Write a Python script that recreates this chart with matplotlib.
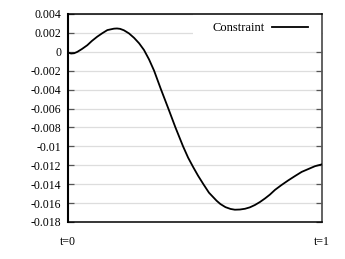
import matplotlib
matplotlib.use("Agg")
import matplotlib.pyplot as plt
from matplotlib.patches import Rectangle

# constraint value along t
t_vals = [0.0, 0.012, 0.024, 0.037, 0.055, 0.076, 0.094, 0.115, 0.134, 0.155,
          0.181, 0.193, 0.205, 0.22, 0.24, 0.26, 0.28, 0.299, 0.319, 0.339,
          0.365, 0.395, 0.423, 0.453, 0.473, 0.493, 0.512, 0.533, 0.555, 0.585,
          0.6, 0.62, 0.64, 0.657, 0.677, 0.697, 0.716, 0.736, 0.756, 0.776,
          0.795, 0.815, 0.84, 0.867, 0.893, 0.92, 0.946, 0.972, 1.0]
c_vals = [-0.00008, -0.00018, -0.00015, 0.0, 0.0003, 0.0007, 0.00115, 0.0016,
          0.00195, 0.0023, 0.00245, 0.00247, 0.00243, 0.00228, 0.00195,
          0.00148, 0.0009, 0.0002, -0.0008, -0.002, -0.0039, -0.006, -0.008,
          -0.0100, -0.0112, -0.0122, -0.0131, -0.0140, -0.0149, -0.01575,
          -0.0161, -0.01643, -0.01662, -0.0167, -0.01668, -0.0166, -0.01645,
          -0.0162, -0.01588, -0.0155, -0.0151, -0.0146, -0.0141, -0.0136,
          -0.01315, -0.0127, -0.0124, -0.0121, -0.0119]

y_ticks = [0.004, 0.002, 0, -0.002, -0.004, -0.006, -0.008, -0.01, -0.012,
           -0.014, -0.016, -0.018]
y_labels = ["0.004", "0.002", "0", "-0.002", "-0.004", "-0.006", "-0.008",
            "-0.01", "-0.012", "-0.014", "-0.016", "-0.018"]
x_ticks = [0, 1]
x_labels = ["t=0", "t=1"]

plt.rcParams['font.family'] = ['Liberation Serif', 'DejaVu Serif']
plt.rcParams['font.size'] = 8.5

fig = plt.figure(figsize=(3.45, 2.59), dpi=100)
ax = fig.add_axes([68 / 345, 1 - 222 / 259, 254 / 345, 208 / 259])

ax.plot(t_vals, c_vals, color='black', lw=1.3, label='Constraint', zorder=3)

ax.set_xlim(0, 1)
ax.set_ylim(-0.018, 0.004)
ax.set_yticks(y_ticks)
ax.set_yticklabels(y_labels)
ax.set_xticks(x_ticks)
ax.set_xticklabels(x_labels)

ax.grid(axis='y', color='#dddddd', lw=0.9)
ax.set_axisbelow(True)
ax.tick_params(axis='y', direction='in', length=4, width=0.9, color='#555555',
               pad=5, left=True, right=True)
ax.tick_params(axis='x', length=0, pad=10)

for side in ['bottom', 'top']:
    ax.spines[side].set_color('black')
    ax.spines[side].set_linewidth(1.1)
ax.spines['left'].set_color('black')
ax.spines['left'].set_linewidth(1.5)
ax.spines['right'].set_color('#555555')
ax.spines['right'].set_linewidth(1.3)

# white key box hiding the grid behind the legend, as gnuplot does
ax.add_patch(Rectangle((0.492, 0.875), 0.508, 0.125, transform=ax.transAxes,
                       facecolor='white', edgecolor='none', zorder=1))

leg = ax.legend(loc='center right', bbox_to_anchor=(0.945, 0.931),
                markerfirst=False, frameon=False, borderpad=0, borderaxespad=0,
                handlelength=2.9, handletextpad=0.55, fontsize=9)

fig.savefig('out.png', dpi=100)
